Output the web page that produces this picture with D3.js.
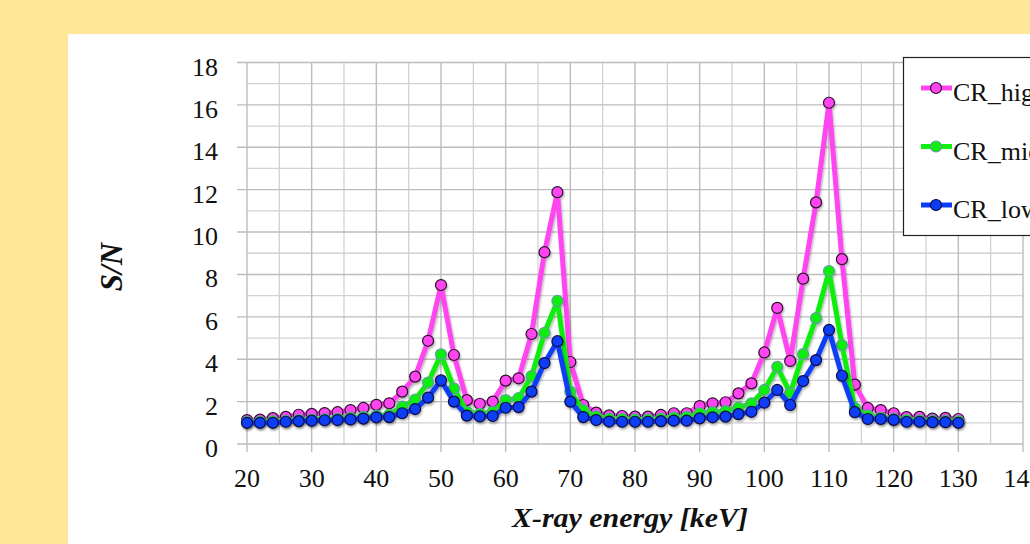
<!DOCTYPE html>
<html>
<head>
<meta charset="utf-8">
<script src="https://cdn.jsdelivr.net/npm/d3@7"></script>
<style>
  html, body { margin: 0; padding: 0; background: #FFE699; overflow: hidden; }
  svg { display: block; }
</style>
</head>
<body>
<div id="grafica"></div>
<script>
// energias (keV) y valores S/N
var energia = [20, 22, 24, 26, 28, 30, 32, 34, 36, 38, 40, 42, 44, 46, 48, 50, 52, 54, 56, 58,
               60, 62, 64, 66, 68, 70, 72, 74, 76, 78, 80, 82, 84, 86, 88, 90, 92, 94, 96, 98,
               100, 102, 104, 106, 108, 110, 112, 114, 116, 118, 120, 122, 124, 126, 128, 130];

var crHigh = [1.13, 1.15, 1.22, 1.28, 1.38, 1.42, 1.46, 1.50, 1.60, 1.70, 1.85, 1.92, 2.47, 3.18, 4.87, 7.50, 4.20, 2.07, 1.90, 2.00,
              2.99, 3.10, 5.19, 9.05, 11.88, 3.87, 1.84, 1.48, 1.35, 1.32, 1.29, 1.29, 1.37, 1.45, 1.45, 1.79, 1.92, 1.97, 2.39, 2.86,
              4.32, 6.42, 3.92, 7.80, 11.40, 16.10, 8.72, 2.80, 1.70, 1.60, 1.45, 1.27, 1.28, 1.20, 1.23, 1.18];

var crMid = [1.05, 1.06, 1.08, 1.10, 1.14, 1.16, 1.18, 1.20, 1.24, 1.28, 1.34, 1.38, 1.76, 2.10, 2.90, 4.23, 2.62, 1.52, 1.42, 1.52,
             2.07, 2.17, 3.20, 5.25, 6.75, 2.47, 1.60, 1.30, 1.20, 1.18, 1.16, 1.16, 1.20, 1.25, 1.28, 1.45, 1.50, 1.55, 1.72, 1.92,
             2.55, 3.64, 2.40, 4.24, 5.94, 8.16, 4.67, 1.70, 1.35, 1.25, 1.20, 1.14, 1.12, 1.10, 1.10, 1.08];

var crLow = [1.00, 1.00, 1.00, 1.05, 1.08, 1.10, 1.12, 1.13, 1.16, 1.20, 1.26, 1.27, 1.45, 1.65, 2.19, 3.00, 2.00, 1.34, 1.30, 1.32,
             1.71, 1.74, 2.47, 3.82, 4.85, 2.00, 1.27, 1.13, 1.06, 1.05, 1.05, 1.05, 1.08, 1.10, 1.10, 1.21, 1.26, 1.29, 1.41, 1.52,
             1.95, 2.55, 1.84, 2.97, 3.96, 5.38, 3.22, 1.50, 1.18, 1.18, 1.14, 1.05, 1.05, 1.03, 1.03, 1.00];

var nombres = ["CR_high", "CR_mid", "CR_low"];
var colores = ["#FF44F0", "#11EE11", "#0A3CF5"];
var bordes = ["#2a102a", "#5f9ea0", "#0a0a40"];

var xTicks = [20, 30, 40, 50, 60, 70, 80, 90, 100, 110, 120, 130, 140];
var yTicks = [0, 2, 4, 6, 8, 10, 12, 14, 16, 18];

var ancho = 1030, altura = 544;
var fuente = "'Liberation Serif', 'Times New Roman', serif";

var svg = d3.select("#grafica").append("svg")
  .attr("width", ancho)
  .attr("height", altura);

// sombra suave como en el original
var defs = svg.append("defs");
var filtro = defs.append("filter").attr("id", "sombra")
  .attr("x", "-20%").attr("y", "-20%").attr("width", "140%").attr("height", "140%");
filtro.append("feDropShadow")
  .attr("dx", 1).attr("dy", 2).attr("stdDeviation", 1.2)
  .attr("flood-color", "#000").attr("flood-opacity", 0.3);

// panel blanco
svg.append("rect")
  .attr("x", 68).attr("y", 34)
  .attr("width", ancho - 68).attr("height", altura - 34)
  .attr("fill", "#ffffff");

var x = d3.scaleLinear().domain([20, 140]).range([247, 1023]);
var y = d3.scaleLinear().domain([0, 18]).range([444, 62.5]);

// rejilla menor
var g = svg.append("g");
g.selectAll(".vmin").data(d3.range(25, 141, 10)).enter().append("line")
  .attr("x1", d => x(d)).attr("x2", d => x(d))
  .attr("y1", y(18)).attr("y2", y(0))
  .attr("stroke", "#d2d2d2").attr("stroke-width", 1.3);
g.selectAll(".hmin").data(d3.range(1, 18, 2)).enter().append("line")
  .attr("x1", x(20)).attr("x2", x(140))
  .attr("y1", d => y(d)).attr("y2", d => y(d))
  .attr("stroke", "#d2d2d2").attr("stroke-width", 1.3);

// rejilla mayor
g.selectAll(".vmaj").data(xTicks).enter().append("line")
  .attr("x1", d => x(d)).attr("x2", d => x(d))
  .attr("y1", y(18)).attr("y2", y(0) + 8)
  .attr("stroke", "#bcbcbc").attr("stroke-width", 1.4);
g.selectAll(".hmaj").data(yTicks).enter().append("line")
  .attr("x1", x(20) - 10).attr("x2", x(140))
  .attr("y1", d => y(d)).attr("y2", d => y(d))
  .attr("stroke", "#bcbcbc").attr("stroke-width", 1.4);

// etiquetas de ejes
svg.selectAll(".ytick").data(yTicks).enter().append("text")
  .attr("x", 218).attr("y", d => y(d) + 13)
  .attr("text-anchor", "end")
  .attr("font-family", fuente)
  .attr("font-size", 26)
  .attr("fill", "#111")
  .text(d => d);

svg.selectAll(".xtick").data(xTicks).enter().append("text")
  .attr("x", d => x(d)).attr("y", 487)
  .attr("text-anchor", "middle")
  .attr("font-family", fuente)
  .attr("font-size", 26)
  .attr("fill", "#111")
  .text(d => d);

svg.append("text")
  .attr("x", 512).attr("y", 527)
  .attr("textLength", 236)
  .attr("lengthAdjust", "spacingAndGlyphs")
  .attr("font-family", fuente)
  .attr("font-size", 27)
  .attr("font-weight", "bold")
  .attr("font-style", "italic")
  .attr("fill", "#111")
  .text("X-ray energy [keV]");

svg.append("text")
  .attr("transform", "translate(122,267) rotate(-90)")
  .attr("text-anchor", "middle")
  .attr("font-family", fuente)
  .attr("font-size", 31)
  .attr("font-weight", "bold")
  .attr("font-style", "italic")
  .attr("fill", "#111")
  .text("S/N");

// series
var series = [crHigh, crMid, crLow];
var linea = d3.line()
  .x((d, i) => x(energia[i]))
  .y(d => y(d));

series.forEach(function (valores, k) {
  var s = svg.append("g").attr("filter", "url(#sombra)");
  s.append("path")
    .datum(valores)
    .attr("d", linea)
    .attr("fill", "none")
    .attr("stroke", colores[k])
    .attr("stroke-width", 5)
    .attr("stroke-linejoin", "round");
  s.selectAll("circle").data(valores).enter().append("circle")
    .attr("cx", (d, i) => x(energia[i]))
    .attr("cy", d => y(d))
    .attr("r", 5.5)
    .attr("fill", colores[k])
    .attr("stroke", bordes[k])
    .attr("stroke-width", 1.2);
});

// leyenda
var ley = svg.append("g");
ley.append("rect")
  .attr("x", 903.5).attr("y", 57.5)
  .attr("width", 140).attr("height", 178)
  .attr("fill", "#ffffff")
  .attr("stroke", "#222").attr("stroke-width", 1.2);

nombres.forEach(function (n, k) {
  var yy = 88 + k * 58.5;
  ley.append("line")
    .attr("x1", 921).attr("x2", 952)
    .attr("y1", yy).attr("y2", yy)
    .attr("stroke", colores[k]).attr("stroke-width", 5);
  ley.append("circle")
    .attr("cx", 936).attr("cy", yy).attr("r", 5.5)
    .attr("fill", colores[k])
    .attr("stroke", bordes[k]).attr("stroke-width", 1.2);
  ley.append("text")
    .attr("x", 953).attr("y", yy + 13)
    .attr("font-family", fuente)
    .attr("font-size", 26)
    .attr("fill", "#111")
    .text(n);
});
</script>
</body>
</html>
